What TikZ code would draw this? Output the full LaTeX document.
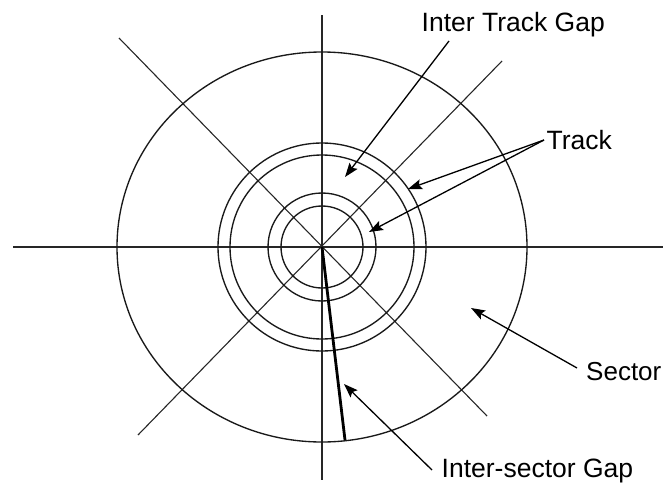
\documentclass[tikz,border=0pt]{standalone}
\usepackage{fontspec}
\setmainfont{Liberation Sans}
\usetikzlibrary{arrows.meta}
\begin{document}
\begin{tikzpicture}[x=1pt,y=-1pt,
  thinline/.style={line width=1.1pt,black!85},
  ring/.style={line width=1.35pt,black!90},
  pointer/.style={line width=1.3pt,-{Stealth[length=14pt,width=10pt,inset=2.5pt]}},
  lbl/.style={anchor=base west,inner sep=0pt,font=\fontsize{26.5}{30}\selectfont}]
\useasboundingbox (0,0) rectangle (663,482);
\coordinate (c) at (322,247);
% axes
\coordinate (vt) at (322,15);
\coordinate (vb) at (322,480);
\coordinate (hl) at (13,247);
\coordinate (hr) at (663,247);
\coordinate (d1a) at (119,38);
\coordinate (d1b) at (487,416);
\coordinate (d2a) at (138,435);
\coordinate (d2b) at (502,61);
\draw[thinline] (vt) -- (vb);
\draw[thinline] (hl) -- (hr);
\draw[thinline] (d1a) -- (d1b);
\draw[thinline] (d2a) -- (d2b);
% circles
\draw[ring] (c) ellipse [x radius=205, y radius=195];
\draw[ring] (c) circle [radius=104];
\draw[ring] (c) circle [radius=92];
\draw[ring] (c) circle [radius=54];
\draw[ring] (c) circle [radius=41];
% inter-sector gap
\coordinate (g) at (345,440);
\draw[line width=2.8pt] (c) -- (g);
% labels
\node[lbl] (itg) at (421.5,31) {Inter Track Gap};
\node[lbl] (trk) at (546.5,149.5) {Track};
\node[lbl, font=\fontsize{26}{30}\selectfont] (sec) at (586,380) {Sector};
\node[lbl] (isg) at (441.5,477) {Inter-sector Gap};
% arrow starts and tips
\coordinate (s1) at (449,41);
\coordinate (t1) at (345,177);
\coordinate (s2) at (544,140);
\coordinate (t2a) at (408,189);
\coordinate (t2b) at (369,232);
\coordinate (s3) at (577,368);
\coordinate (t3) at (471,308);
\coordinate (s4) at (432,470);
\coordinate (t4) at (344,384);
\draw[pointer] (s1) -- (t1);
\draw[pointer] (s2) -- (t2a);
\draw[pointer] (s2) -- (t2b);
\draw[pointer] (s3) -- (t3);
\draw[pointer] (s4) -- (t4);
\end{tikzpicture}
\end{document}
